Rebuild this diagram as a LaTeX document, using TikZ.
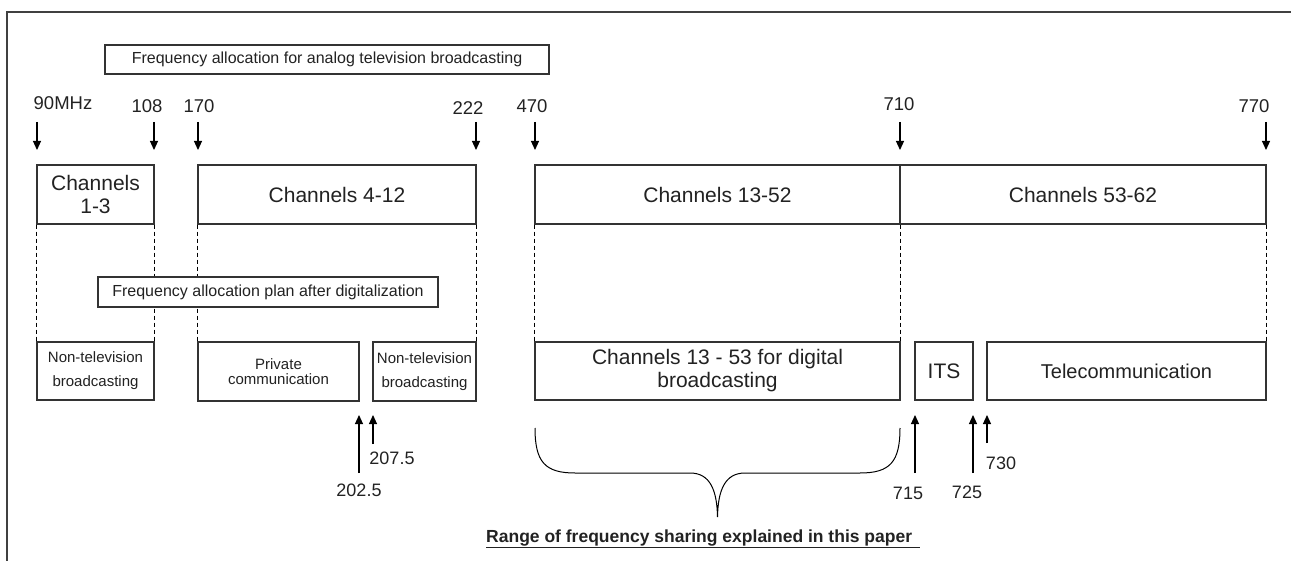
\documentclass[tikz,border=0pt]{standalone}
\usepackage{fontspec}
\setmainfont{Liberation Sans}
\usetikzlibrary{positioning, arrows.meta}
\definecolor{inkgray}{HTML}{222222}
\definecolor{linegray}{HTML}{333333}
\tikzset{
	band/.style={draw=linegray, line width=1.1pt, inner sep=0pt, fill=white, align=center, text=inkgray},
	bigtxt/.style={font=\fontsize{21}{23}\selectfont},
	smalltxt/.style={font=\fontsize{15}{24}\selectfont},
	caption/.style={band, font=\fontsize{16}{19}\selectfont},
	freq/.style={text=inkgray, font=\fontsize{18.5}{20}\selectfont, inner sep=0pt},
	tick/.style={draw=black, line width=1.1pt, -{Triangle[width=8pt,length=9pt]}},
	guide/.style={draw=black, line width=1pt, dash pattern=on 4pt off 3pt}
}

\begin{document}
\begin{tikzpicture}[x=1pt,y=-1pt]
	\useasboundingbox (0,0) rectangle (1291,561);
	\draw[draw=black!75, line width=1.5pt] (7,561) -- (7,12) -- (1291,12);
	%%
	\node[caption, minimum width=444pt, minimum height=29pt] (analog) at (327,59.5) {Frequency allocation for analog television broadcasting};
	%% analog bands
	\node[band, bigtxt, minimum width=117pt, minimum height=59pt] (ch1) at (95.5,194.5) {Channels\\1-3};
	\node[band, bigtxt, minimum width=278pt, minimum height=59pt] (ch4) at (337,194.5) {Channels 4-12};
	\node[band, bigtxt, minimum width=365pt, minimum height=59pt] (ch13) at (717.5,194.5) {Channels 13-52};
	\node[band, bigtxt, minimum width=366pt, minimum height=59pt] (ch53) at (1083,194.5) {Channels 53-62};
	%% digital bands
	\node[band, smalltxt, minimum width=117pt, minimum height=58pt] (nt1) at (95.5,371) {Non-television\\broadcasting};
	\node[band, font=\fontsize{15}{15.5}\selectfont, minimum width=161pt, minimum height=59pt] (pc) at (278.5,371.5) {Private\\communication};
	\node[band, smalltxt, minimum width=103pt, minimum height=59pt] (nt2) at (424.5,371.5) {Non-television\\broadcasting};
	\node[band, bigtxt, minimum width=365pt, minimum height=58pt] (dig) at (717.5,371) {Channels 13 - 53 for digital\\broadcasting};
	\node[band, bigtxt, minimum width=58pt, minimum height=58pt] (its) at (944,371) {ITS};
	\node[band, font=\fontsize{20}{23}\selectfont, minimum width=279pt, minimum height=58pt] (tel) at (1126.5,371) {Telecommunication};
	%% guides between the two plans
	\draw[guide] (ch1.south west) -- (nt1.north west);
	\draw[guide] (ch1.south east) -- (nt1.north east);
	\draw[guide] (ch4.south west) -- (pc.north west);
	\draw[guide] (ch4.south east) -- (nt2.north east);
	\draw[guide] (ch13.south west) -- (dig.north west);
	\draw[guide] (ch13.south east) -- (dig.north east);
	\draw[guide] (ch53.south east) -- (tel.north east);
	\node[caption, minimum width=340pt, minimum height=30pt] (plan) at (268,292) {Frequency allocation plan after digitalization};
	%% band edges on top
	\node[freq] (f90) at (63,103.5) {90MHz};
	\node[freq] (f108) at (147,106.5) {108};
	\node[freq] (f170) at (199,106.5) {170};
	\node[freq] (f222) at (468,108.5) {222};
	\node[freq] (f470) at (532,106.5) {470};
	\node[freq] (f710) at (899,104) {710};
	\node[freq] (f770) at (1254,106.5) {770};
	\foreach \n/\x in {a/37,b/154,c/198,d/476,e/535,f/900,g/1266} {
		\coordinate (top\n) at (\x,122);
		\coordinate (tip\n) at (\x,150);
		\draw[tick] (top\n) -- (tip\n);
	}
	%% band edges below
	\node[freq, font=\fontsize{18}{20}\selectfont] (f2025) at (359,490) {202.5};
	\node[freq, font=\fontsize{18}{20}\selectfont] (f2075) at (392,458) {207.5};
	\node[freq, font=\fontsize{18}{20}\selectfont] (f715) at (908,493) {715};
	\node[freq, font=\fontsize{18}{20}\selectfont] (f725) at (967,492) {725};
	\node[freq, font=\fontsize{18}{20}\selectfont] (f730) at (1001,463.5) {730};
	\foreach \n/\x/\y in {a/359/473,b/373/444,c/915/473,d/973/473,e/987/443} {
		\coordinate (low\n) at (\x,\y);
		\coordinate (up\n) at (\x,415);
		\draw[tick] (low\n) -- (up\n);
	}
	%% sharing range
	\draw[draw=black, line width=1pt] (535,428) .. controls (535,462) and (545,473) .. (575,473) -- (690,473)
		.. controls (710,473) and (717,490) .. (717.5,517)
		.. controls (718,490) and (725,473) .. (745,473) -- (860,473)
		.. controls (890,473) and (900,462) .. (900,428);
	\node[anchor=base west, inner sep=0pt, text=inkgray, font=\fontsize{17.5}{20}\selectfont\bfseries] (range) at (486,542)
		{\underline{Range of frequency sharing explained in this paper\ \,}};
\end{tikzpicture}
\end{document}
